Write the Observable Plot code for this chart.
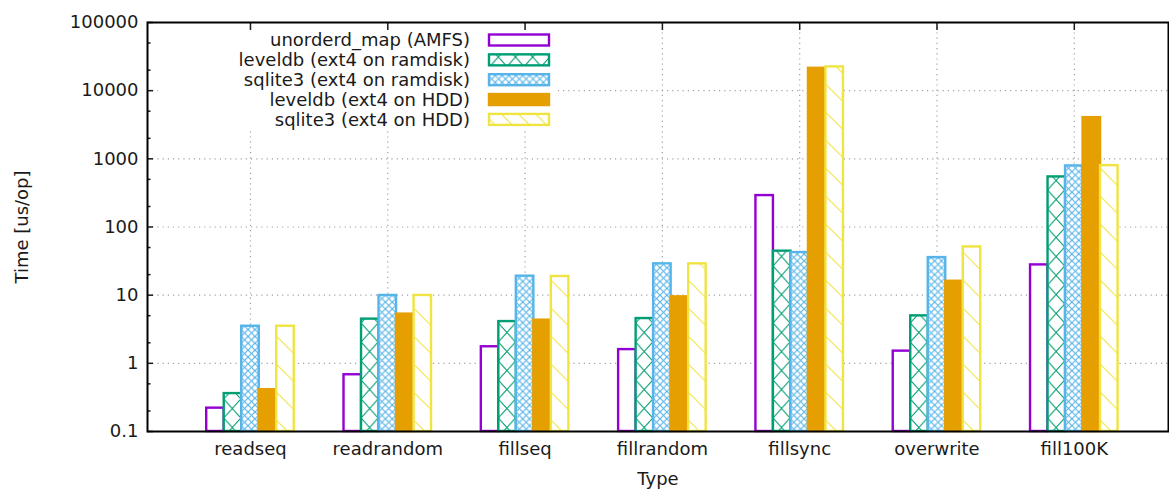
<!DOCTYPE html>
<html><head><meta charset="utf-8">
<script src="https://cdn.jsdelivr.net/npm/d3@7"></script>
<script src="https://cdn.jsdelivr.net/npm/@observablehq/plot@0.6"></script>
<style>body{margin:0;background:#fff} svg{display:block}</style>
</head><body><div id="chart"></div>
<script>
const categories = ["readseq", "readrandom", "fillseq", "fillrandom", "fillsync", "overwrite", "fill100K"];
const seriesNames = ["unorderd_map (AMFS)", "leveldb (ext4 on ramdisk)", "sqlite3 (ext4 on ramdisk)", "leveldb (ext4 on HDD)", "sqlite3 (ext4 on HDD)"];
const unorderedMapAmfs = [0.22, 0.68, 1.75, 1.59, 289, 1.51, 27.8];
const leveldbRamdisk   = [0.36, 4.45, 4.1, 4.54, 44.2, 4.97, 543];
const sqliteRamdisk    = [3.5, 9.9, 19, 28.8, 42.2, 35.6, 787];
const leveldbHdd       = [0.41, 5.27, 4.3, 9.45, 21300, 16.0, 4020];
const sqliteHdd        = [3.5, 9.9, 18.8, 28.8, 22300, 51, 795];
const yMajorTicks = [0.1, 1, 10, 100, 1000, 10000, 100000];
const yTickLabels = ["0.1", "1", "10", "100", "1000", "10000", "100000"];

const seriesValues = [unorderedMapAmfs, leveldbRamdisk, sqliteRamdisk, leveldbHdd, sqliteHdd];
const colors = ["#9400d3", "#009e73", "#56b4e9", "#e69f00", "#f0e442"];
const fills = ["white", "url(#pat1)", "url(#pat2)", "#e69f00", "url(#pat4)"];
const bw = 0.1275;

const rows = [];
seriesValues.forEach((vals, k) => vals.forEach((v, i) => rows.push({i, k, v})));

const yMinor = [];
for (let e = -1; e < 5; e++) for (const m of [2, 5]) yMinor.push(m * Math.pow(10, e));
const yLabelMap = new Map(yMajorTicks.map((t, j) => [t, yTickLabels[j]]));

const W = 1169, H = 491;
const font = "DejaVu Sans";
const fs = 18;

const barMarks = seriesValues.map((vals, k) =>
  Plot.rectY(rows.filter(r => r.k === k), {
    x1: r => r.i + (r.k - 2.5) * bw,
    x2: r => r.i + (r.k - 1.5) * bw,
    y1: 0.1,
    y2: "v",
    fill: fills[k],
    stroke: colors[k],
    strokeWidth: 2.4
  })
);

const chart = Plot.plot({
  width: W, height: H,
  marginLeft: 147, marginRight: 1, marginTop: 22, marginBottom: 60,
  style: {fontFamily: font, fontSize: fs + "px", color: "#1a1a1a", background: "white"},
  x: {type: "linear", domain: [-0.75, 6.686]},
  y: {type: "log", domain: [0.1, 100000]},
  marks: [
    Plot.ruleY(yMajorTicks.slice(1, -1), {stroke: "#a0a0a0", strokeDasharray: "1.2,4", strokeWidth: 1.2}),
    Plot.ruleX(d3.range(categories.length), {stroke: "#a0a0a0", strokeDasharray: "1.2,4", strokeWidth: 1.2}),
    ...barMarks,
    Plot.axisX(d3.range(categories.length), {anchor: "bottom", tickSize: 0, tickPadding: 11, tickFormat: i => categories[i], label: "Type", labelAnchor: "center", labelOffset: 53, labelArrow: "none", fontSize: fs}),
    Plot.axisX(d3.range(categories.length), {anchor: "top", tickSize: 7, dy: 7, tickFormat: () => "", label: null, strokeWidth: 1.5}),
    Plot.axisY(yMajorTicks, {anchor: "left", tickSize: 6, dx: 6, tickPadding: 9, tickFormat: d => yLabelMap.get(d), label: "Time [us/op]", labelAnchor: "center", labelOffset: 132, labelArrow: "none", strokeWidth: 1.5, fontSize: fs}),
    Plot.axisY(yMinor, {anchor: "left", tickSize: 3.5, dx: 3.5, tickFormat: () => "", label: null, strokeWidth: 1.5}),
    Plot.frame({stroke: "black", strokeWidth: 2})
  ]
});

// patterns
const xs = chart.scale("x");
const catPx = xs.apply(1) - xs.apply(0);
const svgEl = chart.tagName.toLowerCase() === "svg" ? chart : chart.querySelector("svg");
const svg = d3.select(svgEl);
const defs = svg.insert("defs", ":first-child");
function mkPattern(id, k, tw, th, lines) {
  const x0 = xs.apply((k - 2.5) * bw);
  const p = defs.append("pattern").attr("id", id).attr("patternUnits", "userSpaceOnUse")
    .attr("x", x0).attr("y", 0).attr("width", tw).attr("height", th);
  p.append("rect").attr("width", tw).attr("height", th).attr("fill", "white");
  for (const [a, b, c, d] of lines)
    p.append("line").attr("x1", a).attr("y1", b).attr("x2", c).attr("y2", d)
      .attr("stroke", colors[k]).attr("stroke-width", 1.1);
}
{
  const tw = catPx / 8, th = 19;
  mkPattern("pat1", 1, tw, th, [[0, 0, tw, th], [tw, 0, 0, th]]);
  const tw2 = catPx / 20;
  mkPattern("pat2", 2, tw2, tw2, [[0, 0, tw2, tw2], [tw2, 0, 0, tw2]]);
  const th4 = 28;
  mkPattern("pat4", 4, tw, th4, [[0, 0, tw, tw]]);
}

// legend (opaque key box), placed under the axes and frame
const firstAxis = Array.from(svgEl.children).find(n => (n.getAttribute("aria-label") || "").includes("axis"));
const lgNode = document.createElementNS("http://www.w3.org/2000/svg", "g");
svgEl.insertBefore(lgNode, firstAxis || null);
const lg = d3.select(lgNode);
lg.append("rect").attr("x", 158).attr("y", 29).attr("width", 400).attr("height", 101).attr("fill", "white");
seriesNames.forEach((name, k) => {
  const cy = 40 + 19.85 * k;
  lg.append("text").attr("x", 470).attr("y", cy).attr("dy", "0.35em").attr("text-anchor", "end")
    .attr("font-family", font).attr("font-size", fs).attr("fill", "#1a1a1a").text(name);
  lg.append("rect").attr("x", 489).attr("y", cy - 5.5).attr("width", 60).attr("height", 11)
    .attr("fill", fills[k]).attr("stroke", colors[k]).attr("stroke-width", 2.4);
});

document.getElementById("chart").append(chart);
</script>
</body></html>
